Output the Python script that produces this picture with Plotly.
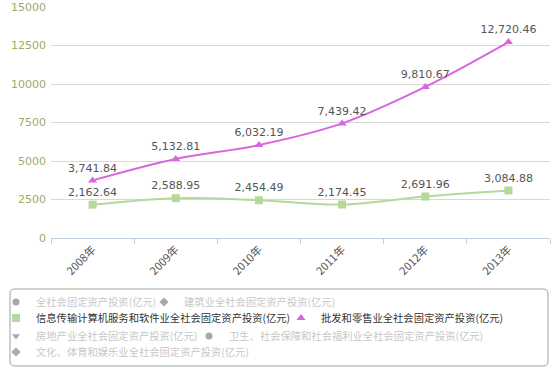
import plotly.graph_objects as go

years = ["2008年", "2009年", "2010年", "2011年", "2012年", "2013年"]
info_tech = [2162.64, 2588.95, 2454.49, 2174.45, 2691.96, 3084.88]
wholesale = [3741.84, 5132.81, 6032.19, 7439.42, 9810.67, 12720.46]
hidden_values = [None, None, None, None, None, None]

series_names = [
    "全社会固定资产投资(亿元)",
    "建筑业全社会固定资产投资(亿元)",
    "信息传输计算机服务和软件业全社会固定资产投资(亿元)",
    "批发和零售业全社会固定资产投资(亿元)",
    "房地产业全社会固定资产投资(亿元)",
    "卫生、社会保障和社会福利业全社会固定资产投资(亿元)",
    "文化、体育和娱乐业全社会固定资产投资(亿元)",
]
series_values = [hidden_values, hidden_values, info_tech, wholesale,
                 hidden_values, hidden_values, hidden_values]
symbols = ["circle", "diamond", "square", "triangle-up", "triangle-down", "circle", "diamond"]
colors = ["#555555", "#555555", "#b5d99a", "#d966dd", "#555555", "#555555", "#555555"]
shown = [False, False, True, True, False, False, False]

# legend entry positions (px): text-left x, row-centre y
legend_pos = [(35, 302), (183, 302), (35, 318), (320, 318), (35, 336), (228, 336), (35, 352)]

W, H = 560, 374
L, R, T, B = 51, 10, 7, 136
pw, ph = W - L - R, H - T - B

def px2paper(x, y):
    return (x - L) / pw, (H - B - y) / ph

FONT = "DejaVu Sans, Noto Sans CJK SC, sans-serif"
CJK = "Noto Sans CJK SC, DejaVu Sans, sans-serif"

fig = go.Figure()
layout_legends = {}
for i, (name, vals, sym, col, vis) in enumerate(zip(series_names, series_values, symbols, colors, shown)):
    lname = "legend" if i == 0 else f"legend{i + 1}"
    group = f"s{i}"
    if vis:
        # smooth connecting line
        fig.add_trace(go.Scatter(
            x=years, y=vals, name=name, mode="lines",
            line=dict(color=col, width=2, shape="spline"),
            legendgroup=group, showlegend=False, hoverinfo="skip",
        ))
        fig.add_trace(go.Scatter(
            x=years, y=vals, name=name, mode="markers+text",
            marker=dict(symbol=sym, size=8, color=col),
            text=vals, texttemplate="%{y:,.2f}", textposition="top center",
            textfont=dict(family=FONT, size=11, color="#555555"),
            legend=lname, legendgroup=group,
        ))
    else:
        fig.add_trace(go.Scatter(
            x=years, y=vals, name=name, mode="markers",
            marker=dict(symbol=sym, size=7, color=col),
            legend=lname, legendgroup=group, visible="legendonly",
        ))
    tx, ty = legend_pos[i]
    lx, ly = px2paper(tx - 39, ty)
    layout_legends[lname] = dict(
        x=lx, y=ly, xanchor="left", yanchor="middle", orientation="h",
        bgcolor="rgba(0,0,0,0)", borderwidth=0, itemclick=False, itemdoubleclick=False,
        font=dict(family=CJK, size=10.3, color="#333333" if vis else "#8f8f8f"),
        tracegroupgap=0,
    )

# rounded legend frame
x0, y0 = px2paper(10, 366)
x1, y1 = px2paper(548, 289)
r = 5
rx, ry = r / pw, r / ph
path = (f"M{x0+rx},{y1} L{x1-rx},{y1} Q{x1},{y1} {x1},{y1-ry} "
        f"L{x1},{y0+ry} Q{x1},{y0} {x1-rx},{y0} L{x0+rx},{y0} "
        f"Q{x0},{y0} {x0},{y0+ry} L{x0},{y1-ry} Q{x0},{y1} {x0+rx},{y1} Z")

fig.update_layout(
    width=W, height=H,
    margin=dict(l=L, r=R, t=T, b=B, autoexpand=False),
    paper_bgcolor="white", plot_bgcolor="white",
    font=dict(family=FONT, size=11, color="#555555"),
    showlegend=True,
    hovermode=False,
    shapes=[dict(type="path", path=path, xref="paper", yref="paper",
                 line=dict(color="#a0a0a0", width=1), fillcolor="rgba(0,0,0,0)", layer="below")],
    **layout_legends,
)
fig.update_xaxes(
    type="category", range=[-0.5, 5.5], tickangle=-45,
    tickfont=dict(family=CJK, size=11, color="#555555"),
    showline=True, linecolor="#c0d0e0", linewidth=1,
    ticks="outside", ticklen=5, tickcolor="#c0d0e0",
    tickson="boundaries", showgrid=False, zeroline=False,
)
fig.update_yaxes(
    range=[0, 15000], tickvals=[0, 2500, 5000, 7500, 10000, 12500, 15000],
    ticktext=["0", "2500", "5000", "7500", "10000", "12500", "15000"],
    tickfont=dict(family=FONT, size=11, color="#9aab6a"),
    showgrid=True, gridcolor="#d8d8d8", gridwidth=1, zeroline=False,
    ticks="", ticklabelstandoff=4,
)

fig.write_html("out.html", config={"displayModeBar": False},
               post_script="document.body.style.margin='0';")
